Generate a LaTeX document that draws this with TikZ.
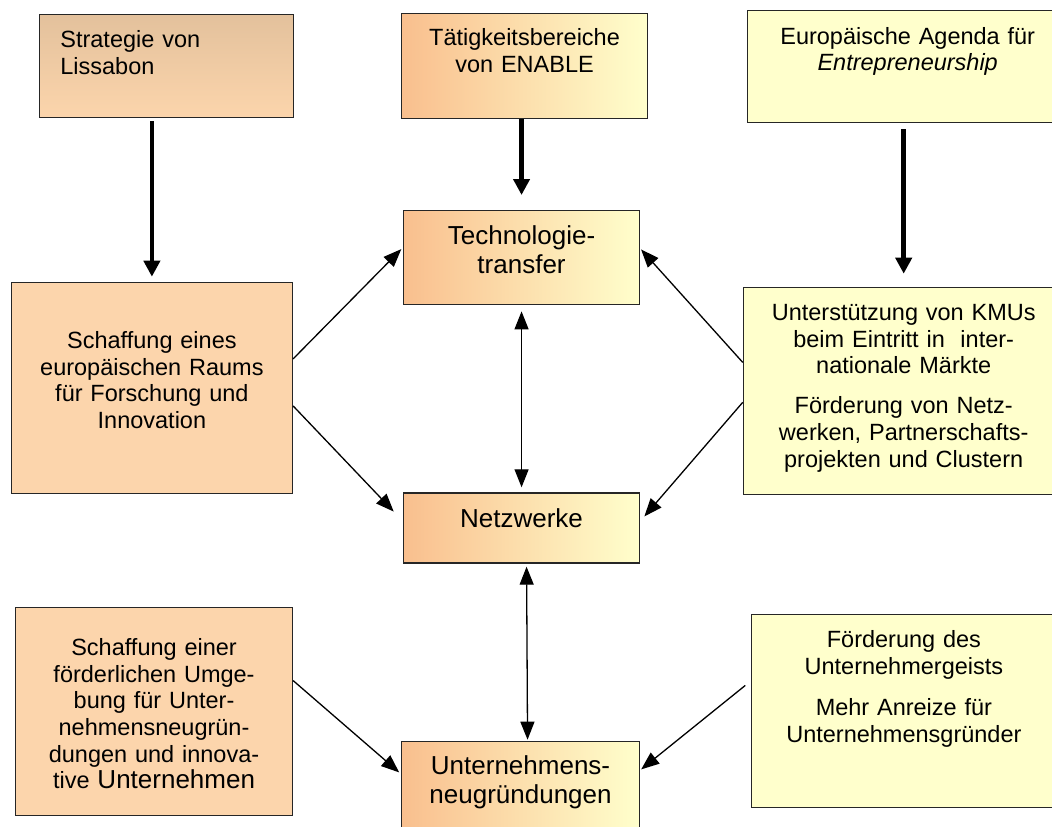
\documentclass[tikz,border=0pt]{standalone}
\usepackage{fontspec}
\setmainfont{Liberation Sans}
\usetikzlibrary{arrows.meta, calc}
\definecolor{MyPeach}{HTML}{FCD5AC}
\definecolor{MyTan}{HTML}{E3C19C}
\definecolor{MyOrange}{HTML}{F9BF8E}
\definecolor{MyYellow}{HTML}{FFFFCC}

\begin{document}
\begin{tikzpicture}[x=1pt, y=-1pt,
		box/.style={draw=black!85, line width=1.4pt, inner sep=0pt, anchor=north west, align=center, font=\fontsize{23.5}{26.6}\selectfont},
		bigbox/.style={box, font=\fontsize{26}{29.5}\selectfont},
		grad/.style={left color=MyOrange, right color=MyYellow},
		link/.style={line width=1.3pt, >={Triangle[length=18pt, width=14pt]}, ->},
		feed/.style={line width=4.5pt, -{Triangle[length=16pt, width=16pt]}}]
					
					\fill[white, use as bounding box] (0,0) rectangle (1052,827);
					\clip (0,0) rectangle (1052,827);
					
					% upper row
					\node[box, align=left, top color=MyTan, bottom color=MyPeach, inner xsep=21pt, text width=212pt, text height=33pt, text depth=70pt] (lis) at (38.7,14) {Strategie von\\Lissabon};
					\node[box, grad, text width=246.3pt, text height=32.3pt, text depth=73pt] (enable) at (400.7,12.7) {Tätigkeitsbereiche\\von ENABLE};
					\node[box, fill=MyYellow, text width=320.6pt, text height=33.3pt, text depth=78.7pt] (agenda) at (746.7,10) {Europäische Agenda für\\\textit{Entrepreneurship}};
					
					% middle
					\node[bigbox, grad, text width=236.3pt, text height=33.3pt, text depth=60.7pt] (tech) at (402.7,210) {Technologie-\\transfer};
					\node[box, fill=MyPeach, text width=281pt, text height=66pt, text depth=145pt] (raum) at (10.7,281.7) {Schaffung eines\\europäischen Raums\\für Forschung und\\Innovation};
					\node[box, fill=MyYellow, text width=320.6pt, text height=33.3pt, text depth=174pt] (kmu) at (742.7,286.7) {Unterstützung von KMUs\\beim Eintritt in\ \ inter-\\nationale Märkte\\[13.3pt]Förderung von Netz-\\werken, Partnerschafts-\\projekten und Clustern};
					\node[bigbox, grad, text width=236.3pt, text height=34.4pt, text depth=35.6pt] (netz) at (402.7,492.3) {Netzwerke};
					
					% lower row
					\node[box, fill=MyPeach, text width=276.7pt, text height=48.3pt, text depth=160pt] (foerd) at (15,606.7) {Schaffung einer\\förderlichen Umge-\\bung für Unter-\\nehmensneugrün-\\dungen und innova-\\tive {\fontsize{26}{26.6}\selectfont Unternehmen}};
					\node[box, fill=MyYellow, text width=305pt, text height=32.7pt, text depth=160pt] (geist) at (750.7,614) {Förderung des\\Unternehmergeists\\[15pt]Mehr Anreize für\\Unternehmensgründer};
					\node[bigbox, grad, text width=238.3pt, text height=32.6pt, text depth=87pt] (neu) at (400.7,740.7) {Unternehmens-\\neugründungen};
					
					\draw[feed, shorten <=3pt, shorten >=5pt] (lis.south -| raum.north) -- (raum.north);
					\draw[feed, shorten >=15pt] (enable.south -| tech.north) -- (tech.north);
					\draw[feed, shorten <=6pt, shorten >=13pt] (agenda.south -| kmu.north) -- (kmu.north);
					
					\draw[link, shorten >=2pt] ([yshift=29pt]raum.east) -- ([yshift=10pt]tech.west);
					\draw[link, shorten >=13pt] ([yshift=-18pt]raum.east) -- ([yshift=7pt]netz.west);
					\draw[link, shorten >=1pt] ([yshift=28.7pt]kmu.west) -- ([yshift=9pt]tech.east);
					\draw[link, shorten >=6pt] ([yshift=-11.3pt]kmu.west) -- ([yshift=7pt]netz.east);
					
					\draw[link, <->, shorten <=6pt, shorten >=5pt] (tech.south) -- (netz.north);
					\draw[link, <->, shorten <=3pt, shorten >=1pt] ([xshift=5pt]netz.south) -- ([xshift=7pt]neu.north);
					
					\draw[link, shorten >=2pt] ([yshift=31pt]foerd.east) -- ([yshift=-33pt]neu.north west);
					\draw[link, shorten <=7pt, shorten >=1pt] ([yshift=30pt]geist.west) -- ([yshift=-29.3pt]neu.north east);
			\end{tikzpicture}
\end{document}
